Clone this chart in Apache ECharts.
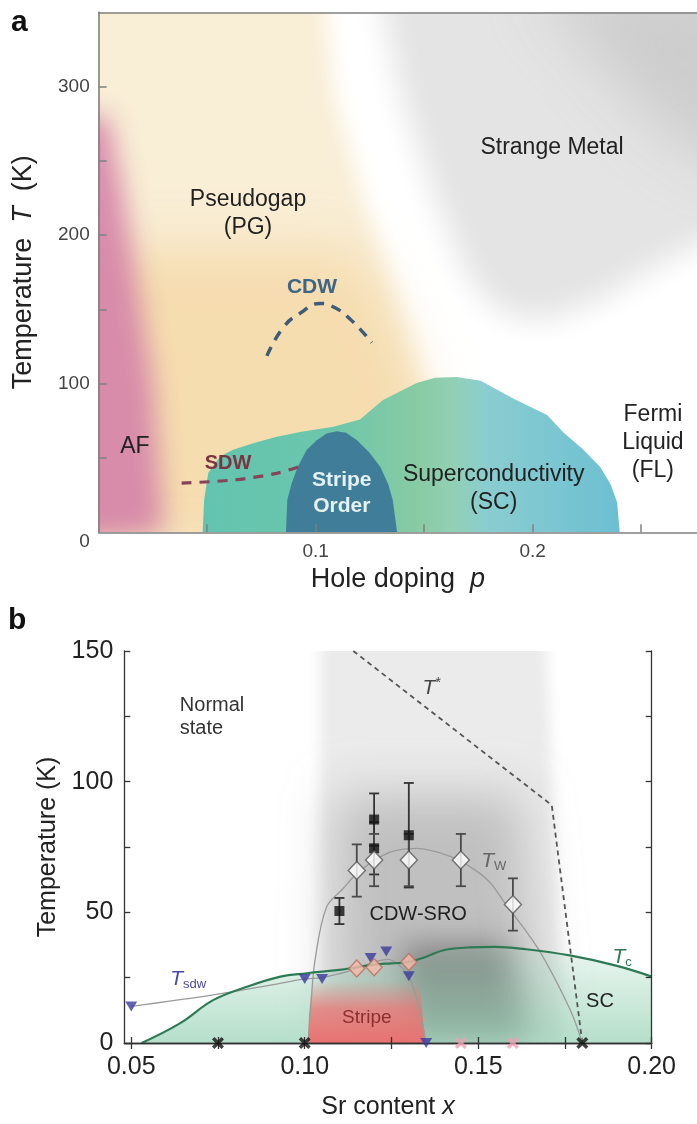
<!DOCTYPE html>
<html>
<head>
<meta charset="utf-8">
<title>Cuprate phase diagrams</title>
<script src="https://cdn.jsdelivr.net/npm/echarts@6/dist/echarts.min.js"></script>
<style>
  html, body { margin: 0; padding: 0; background: #fff; }
  #chart { width: 697px; height: 1124px; }
</style>
</head>
<body>
<div id="chart"></div>
<script>
const FONT = "'Liberation Sans', Arial, Helvetica, sans-serif";

// ---------- panel a: generic cuprate phase diagram (hole doping p, T in K) ----------
const aXTicks = [0.05, 0.1, 0.15, 0.2, 0.25];
const aXLabels = [0.1, 0.2];
const aYTicks = [50, 100, 150, 200, 250, 300];
const aYLabels = [0, 100, 200, 300];

// region outlines, [p, T]
const strangeMetal = [[0.12, 370], [0.3, 370], [0.3, 210], [0.26, 182], [0.23, 156], [0.205, 142], [0.185, 148], [0.17, 172], [0.155, 226], [0.14, 292], [0.128, 370]];
const strangeMetalDark = [[0.2, 370], [0.3, 370], [0.3, 240], [0.265, 265], [0.235, 310]];
const pseudogap = [[-0.03, 370], [0.103, 370], [0.109, 291], [0.122, 225], [0.136, 163], [0.149, 100], [0.158, 60], [0.16, -10], [-0.03, -10]];
const pseudogapLow = [[-0.03, 190], [0.118, 190], [0.134, 150], [0.148, 100], [0.158, -10], [-0.03, -10]];
const afRegion = [[-0.03, 280], [0.004, 280], [0.011, 230], [0.018, 165], [0.025, 100], [0.03, 0], [-0.03, -10]];
const scDome = [[0.0479, 0], [0.0486, 22], [0.0505, 40], [0.0559, 51], [0.0619, 55.5], [0.0712, 60], [0.082, 64.3],
  [0.0928, 67.5], [0.1081, 71], [0.1204, 76], [0.131, 89], [0.1465, 100.5], [0.155, 104], [0.165, 104.5], [0.176, 102],
  [0.191, 90], [0.2066, 79], [0.2143, 67], [0.223, 56], [0.2311, 44], [0.236, 32], [0.2389, 20], [0.2401, 0]];
const stripeDome = [[0.0863, 0], [0.0869, 21.7], [0.0889, 32.9], [0.0917, 44], [0.0958, 55.4], [0.1005, 62], [0.105, 66.5],
  [0.1097, 68], [0.114, 67], [0.119, 62], [0.1245, 54], [0.1298, 44], [0.1335, 32], [0.1355, 21.7], [0.1375, 0]];
const cdwLine = [[0.0775, 118.7], [0.085, 137.8], [0.0928, 147.4], [0.102, 154], [0.108, 151.8], [0.1158, 143.6], [0.1258, 127.7]];
const sdwLine = [[0.0382, 33.1], [0.062, 35.2], [0.082, 39.7], [0.0935, 44.8]];

const notesA = [[0.2089, 258.9, 'Strange Metal'], [0.0688, 214.3, 'Pseudogap\n(PG)'], [0.0167, 57.6, 'AF'],
  [0.182, 29.1, 'Superconductivity\n(SC)'], [0.2554, 60.6, 'Fermi\nLiquid\n(FL)']];
const cdwNote = [[0.0983, 165.1, 'CDW']];
const sdwNote = [[0.0596, 46.6, 'SDW']];
const stripeNote = [[0.112, 26.5, 'Stripe\nOrder']];

// ---------- panel b: LSCO, Sr content x ----------
const bXTicks = [0.05, 0.075, 0.1, 0.125, 0.15, 0.175, 0.2];
const bXLabels = [0.05, 0.1, 0.15, 0.2];
const bYTicks = [0, 25, 50, 75, 100, 125, 150];
const bYLabels = [0, 50, 100, 150];

const tStar = [[0.114, 150], [0.1712, 91], [0.18, 0]];
const tw = [[0.101, 0], [0.1018, 15], [0.103, 32], [0.1063, 52], [0.111, 59], [0.116, 66], [0.1246, 73], [0.1323, 74.5],
  [0.1418, 71.5], [0.1476, 67.5], [0.153, 62], [0.158, 53], [0.1673, 36], [0.1764, 13], [0.18, 0]];
const tc = [[0.053, 0], [0.064, 7.5], [0.0736, 16.4], [0.0833, 21.5], [0.093, 25.4], [0.1006, 26.7], [0.11, 28], [0.115, 29],
  [0.12, 30], [0.125, 30.5], [0.13, 31], [0.135, 33], [0.14, 35.5], [0.1476, 36.6], [0.155, 36.8], [0.163, 36],
  [0.1764, 33.5], [0.19, 29.5], [0.2, 25.4]];
const tsdwLine = [[0.05, 14], [0.0736, 18.4], [0.0929, 22.8], [0.1, 24.5], [0.105, 25], [0.11, 26.5], [0.115, 28.5],
  [0.12, 31], [0.124, 32], [0.127, 30], [0.13, 25.5], [0.132, 18], [0.1335, 10], [0.135, 0]];
const tsdwPoints = [[0.05, 14], [0.1, 24.5], [0.105, 24.5], [0.119, 32.5], [0.1235, 35], [0.13, 25.5], [0.135, 0]];
const squares = [[0.11, 50.5, 5], [0.12, 85.5, 10], [0.12, 74.5, 10], [0.13, 79.5, 20]];
const whiteDiamonds = [[0.115, 66, 10], [0.12, 70, 10], [0.13, 70, 10], [0.145, 70, 10], [0.16, 53, 10]];
const pinkDiamonds = [[0.115, 28.5], [0.12, 29], [0.13, 31]];
const blackCrosses = [[0.075, 0], [0.1, 0], [0.18, 0]];
const pinkCrosses = [[0.145, 0], [0.16, 0]];

// shaded regions of panel b
const cdwHalo = [[0.1045, 170], [0.169, 170], [0.175, 0], [0.1045, 0]];
const cdwBody = [[0.109, 95], [0.162, 95], [0.168, 0], [0.108, 0]];
const cdwCore = [[0.128, 38], [0.158, 38], [0.165, 0], [0.13, 0]];
const stripeArea = [[0.101, 0], [0.1012, 10], [0.1022, 24], [0.133, 24], [0.1348, 0]];

const notesB = [[0.064, 124.6, 'Normal\nstate']];
const notesB2 = [[0.1327, 49, 'CDW-SRO'], [0.1851, 15.8, 'SC']];
const stripeNoteB = [[0.1179, 9.5, 'Stripe']];
const tStarNote = [[0.1366, 135.7, '{i|T}{u|*}']];
const twNote = [[0.1545, 69.5, '{i|T}{s|W}']];
const tcNote = [[0.1915, 33, '{i|T}{s|c}']];
const tsdwNote = [[0.0664, 24.5, '{i|T}{s|sdw}']];

// ---------- helpers ----------
const FAR = 3000; // shape sits off canvas, only its blurred shadow lands in place

function softArea(axes, points, color, blur) {
  return {
    type: 'custom', xAxisIndex: axes[0], yAxisIndex: axes[1], clip: true, silent: true, data: [0],
    renderItem: (params, api) => ({
      type: 'polygon',
      shape: { points: points.map(p => { const c = api.coord(p); return [c[0], c[1] - FAR]; }) },
      style: { fill: '#000', shadowColor: color, shadowBlur: blur, shadowOffsetY: FAR }
    })
  };
}

function area(axes, points, fill) {
  return {
    type: 'custom', xAxisIndex: axes[0], yAxisIndex: axes[1], clip: true, silent: true, data: [0],
    renderItem: (params, api) => ({
      type: 'polygon',
      shape: { points: points.map(p => api.coord(p)) },
      style: { fill: fill }
    })
  };
}

function curve(axes, data, color, width, dash, smooth) {
  return {
    type: 'line', xAxisIndex: axes[0], yAxisIndex: axes[1], data: data, smooth: smooth,
    showSymbol: false, silent: true, clip: true,
    lineStyle: { color: color, width: width, type: dash || 'solid', cap: 'butt' }
  };
}

function notes(axes, list, style) {
  return {
    type: 'custom', xAxisIndex: axes[0], yAxisIndex: axes[1], clip: false, silent: true, z: 10,
    data: list.map(n => [n[0], n[1]]),
    renderItem: (params, api) => {
      const c = api.coord([api.value(0), api.value(1)]);
      return {
        type: 'text', x: c[0], y: c[1],
        style: Object.assign({ text: list[params.dataIndex][2], align: style.align || 'center', verticalAlign: 'middle',
          fontFamily: FONT }, style)
      };
    }
  };
}

function errorBars(axes, list, color) {
  return {
    type: 'custom', xAxisIndex: axes[0], yAxisIndex: axes[1], clip: false, silent: true, z: 4,
    data: list,
    renderItem: (params, api) => {
      const x = api.value(0), y = api.value(1), e = api.value(2);
      const top = api.coord([x, y + e]), bot = api.coord([x, y - e]);
      const st = { stroke: color, lineWidth: 1.8 };
      return {
        type: 'group', children: [
          { type: 'line', shape: { x1: top[0], y1: top[1], x2: bot[0], y2: bot[1] }, style: st },
          { type: 'line', shape: { x1: top[0] - 5, y1: top[1], x2: top[0] + 5, y2: top[1] }, style: st },
          { type: 'line', shape: { x1: bot[0] - 5, y1: bot[1], x2: bot[0] + 5, y2: bot[1] }, style: st }
        ]
      };
    }
  };
}

function points(axes, data, symbol, size, itemStyle, rotate) {
  return {
    type: 'scatter', xAxisIndex: axes[0], yAxisIndex: axes[1], data: data.map(d => [d[0], d[1]]),
    symbol: symbol, symbolSize: size, symbolRotate: rotate || 0, itemStyle: itemStyle,
    clip: false, silent: true, z: 6
  };
}

const crossPath = 'path://M2,0L5,3L8,0L10,2L7,5L10,8L8,10L5,7L2,10L0,8L3,5L0,2Z';
const A = [0, 0], B = [2, 1];

const scFill = new echarts.graphic.LinearGradient(0, 0, 1, 0, [
  { offset: 0, color: '#62c4b0' }, { offset: 0.3, color: '#6cc6ab' }, { offset: 0.52, color: '#88cba4' },
  { offset: 0.6, color: '#92d0b4' }, { offset: 0.68, color: '#8acdd0' }, { offset: 1, color: '#6cbfd2' }
]);
const greenFill = new echarts.graphic.LinearGradient(0, 0, 0, 1, [
  { offset: 0, color: 'rgba(150,210,180,0.18)' }, { offset: 1, color: 'rgba(150,210,180,0.7)' }
]);
const pinkFill = new echarts.graphic.LinearGradient(0, 0, 0, 1, [
  { offset: 0, color: 'rgba(238,118,118,0)' }, { offset: 0.45, color: 'rgba(238,115,115,0.75)' },
  { offset: 1, color: 'rgba(236,108,108,0.95)' }
]);

const axisA = { lineStyle: { color: '#808080', width: 1.6 } };
const axisB = { lineStyle: { color: '#333', width: 1.3 } };
const rich = {
  i: { fontStyle: 'italic', fontSize: 21, fontFamily: FONT, lineHeight: 24 },
  s: { fontSize: 13, fontFamily: FONT, verticalAlign: 'bottom', lineHeight: 12 },
  u: { fontSize: 14, fontFamily: FONT, verticalAlign: 'top', lineHeight: 12 }
};

const chart = echarts.init(document.getElementById('chart'), null, { renderer: 'canvas' });
chart.setOption({
  animation: false,
  backgroundColor: '#fff',
  graphic: [
    { type: 'text', left: 11, top: 8, style: { text: 'a', font: 'bold 30px ' + FONT, fill: '#111' } },
    { type: 'text', left: 8, top: 606, style: { text: 'b', font: 'bold 30px ' + FONT, fill: '#111' } }
  ],
  grid: [
    { left: 98.7, top: 12.3, width: 598.3, height: 520 },
    { left: 124.3, top: 651, width: 527.4, height: 392 }
  ],
  xAxis: [
    { gridIndex: 0, type: 'value', min: 0, max: 0.2757, splitLine: { show: false }, z: 5,
      axisLine: axisA,
      axisTick: { inside: true, length: 8, customValues: aXTicks, lineStyle: { color: '#808080', width: 1.5 } },
      axisLabel: { customValues: aXLabels, margin: 10, fontSize: 19, color: '#444', fontFamily: FONT, formatter: v => v.toFixed(1) },
      name: 'Hole doping  {i|p}', nameLocation: 'middle', nameGap: 34,
      nameTextStyle: { fontSize: 27, color: '#222', fontFamily: FONT, rich: { i: { fontSize: 27, fontStyle: 'italic', fontFamily: FONT } } } },
    { gridIndex: 0, type: 'value', position: 'top', min: 0, max: 0.2757, splitLine: { show: false }, z: 5,
      axisLine: axisA, axisTick: { show: false }, axisLabel: { show: false } },
    { gridIndex: 1, type: 'value', min: 0.048, max: 0.2, splitLine: { show: false }, z: 5,
      axisLine: axisB,
      axisTick: { inside: true, length: 6, customValues: bXTicks, lineStyle: { color: '#333', width: 1.3 } },
      axisLabel: { customValues: bXLabels, margin: 12, fontSize: 25, color: '#222', fontFamily: FONT, formatter: v => v.toFixed(2) },
      name: 'Sr content {i|x}', nameLocation: 'middle', nameGap: 52,
      nameTextStyle: { fontSize: 25, color: '#222', fontFamily: FONT, rich: { i: { fontSize: 25, fontStyle: 'italic', fontFamily: FONT } } } },
    { gridIndex: 1, type: 'value', position: 'top', min: 0.048, max: 0.2, splitLine: { show: false }, z: 5,
      axisLine: axisB,
      axisTick: { inside: true, length: 6, customValues: bXTicks, lineStyle: { color: '#333', width: 1.3 } },
      axisLabel: { show: false } }
  ],
  yAxis: [
    { gridIndex: 0, type: 'value', min: 0, max: 350, splitLine: { show: false }, z: 5,
      axisLine: axisA,
      axisTick: { inside: true, length: 8, customValues: aYTicks, lineStyle: { color: '#808080', width: 1.5 } },
      axisLabel: { customValues: aYLabels, margin: 9, fontSize: 19, color: '#444', fontFamily: FONT,
        formatter: v => v === 0 ? '{z|0}' : String(v), rich: { z: { fontSize: 19, color: '#444', fontFamily: FONT, padding: [19, 0, 0, 0] } } },
      name: 'Temperature  {i|T}  (K)', nameLocation: 'middle', nameGap: 62,
      nameTextStyle: { fontSize: 27, color: '#222', fontFamily: FONT, rich: { i: { fontSize: 27, fontStyle: 'italic', fontFamily: FONT } } } },
    { gridIndex: 1, type: 'value', min: 0, max: 150, splitLine: { show: false }, z: 5,
      axisLine: axisB,
      axisTick: { inside: true, length: 6, customValues: bYTicks, lineStyle: { color: '#333', width: 1.3 } },
      axisLabel: { customValues: bYLabels, margin: 11, fontSize: 25, color: '#222', fontFamily: FONT },
      name: 'Temperature (K)', nameLocation: 'middle', nameGap: 54,
      nameTextStyle: { fontSize: 25, color: '#222', fontFamily: FONT } },
    { gridIndex: 1, type: 'value', position: 'right', min: 0, max: 150, splitLine: { show: false }, z: 5,
      axisLine: axisB,
      axisTick: { inside: true, length: 6, customValues: bYTicks, lineStyle: { color: '#333', width: 1.3 } },
      axisLabel: { show: false } }
  ],
  series: [
    // panel a regions
    softArea(A, strangeMetal, '#e4e4e4', 30),
    softArea(A, strangeMetalDark, 'rgba(195,195,195,0.7)', 60),
    softArea(A, pseudogap, '#f9eed6', 22),
    softArea(A, pseudogapLow, 'rgba(244,210,152,0.62)', 50),
    softArea(A, afRegion, 'rgba(214,135,170,0.95)', 26),
    area(A, scDome, scFill),
    area(A, stripeDome, '#3f7d98'),
    curve(A, cdwLine, '#3e5c78', 3.5, [10, 8], 0.5),
    curve(A, sdwLine, '#85445a', 3.2, [10, 8], 0.3),
    notes(A, notesA, { fontSize: 23, fill: '#222', lineHeight: 28 }),
    notes(A, cdwNote, { fontSize: 21, fontWeight: 'bold', fill: '#3e6585' }),
    notes(A, sdwNote, { fontSize: 20, fontWeight: 'bold', fill: '#7a3444' }),
    notes(A, stripeNote, { fontSize: 21, fontWeight: 'bold', fill: '#e4f1f5', lineHeight: 26 }),

    // panel b regions
    softArea(B, cdwHalo, '#ebebeb', 14),
    softArea(B, cdwBody, 'rgba(160,160,160,0.58)', 50),
    softArea(B, cdwCore, 'rgba(95,95,95,0.62)', 30),
    area(B, tc.concat([[0.2, 0]]), greenFill),
    area(B, stripeArea, pinkFill),
    curve(B, tStar, '#555', 1.8, [5, 4], false),
    curve(B, tw, '#9a9a9a', 1.3, 'solid', 0.35),
    curve(B, tsdwLine, '#9a9a9a', 1.3, 'solid', 0.35),
    curve(B, tc, '#2e7a55', 2.2, 'solid', 0.4),
    errorBars(B, squares, '#333'),
    errorBars(B, whiteDiamonds, '#4a4a4a'),
    points(B, squares, 'rect', 10, { color: '#111' }),
    points(B, whiteDiamonds, 'diamond', [17, 18], { color: '#fff', borderColor: '#555', borderWidth: 1.4 }),
    points(B, tsdwPoints, 'triangle', [12, 10], { color: '#3b3b9c' }, 180),
    points(B, pinkDiamonds, 'diamond', [16, 17], { color: '#f6b9aa', borderColor: '#b36e5e', borderWidth: 1.3 }),
    points(B, blackCrosses, crossPath, 12, { color: '#111' }),
    points(B, pinkCrosses, crossPath, 12, { color: '#f0a0b4' }),
    notes(B, notesB, { fontSize: 20, fill: '#333', lineHeight: 23, align: 'left' }),
    notes(B, notesB2, { fontSize: 20, fill: '#222' }),
    notes(B, stripeNoteB, { fontSize: 19, fill: '#8e2e2e' }),
    notes(B, tStarNote, { fill: '#444', rich: rich }),
    notes(B, twNote, { fill: '#666', rich: rich }),
    notes(B, tcNote, { fill: '#2e7a55', rich: rich }),
    notes(B, tsdwNote, { fill: '#4a4aa6', rich: rich })
  ]
});
</script>
</body>
</html>
